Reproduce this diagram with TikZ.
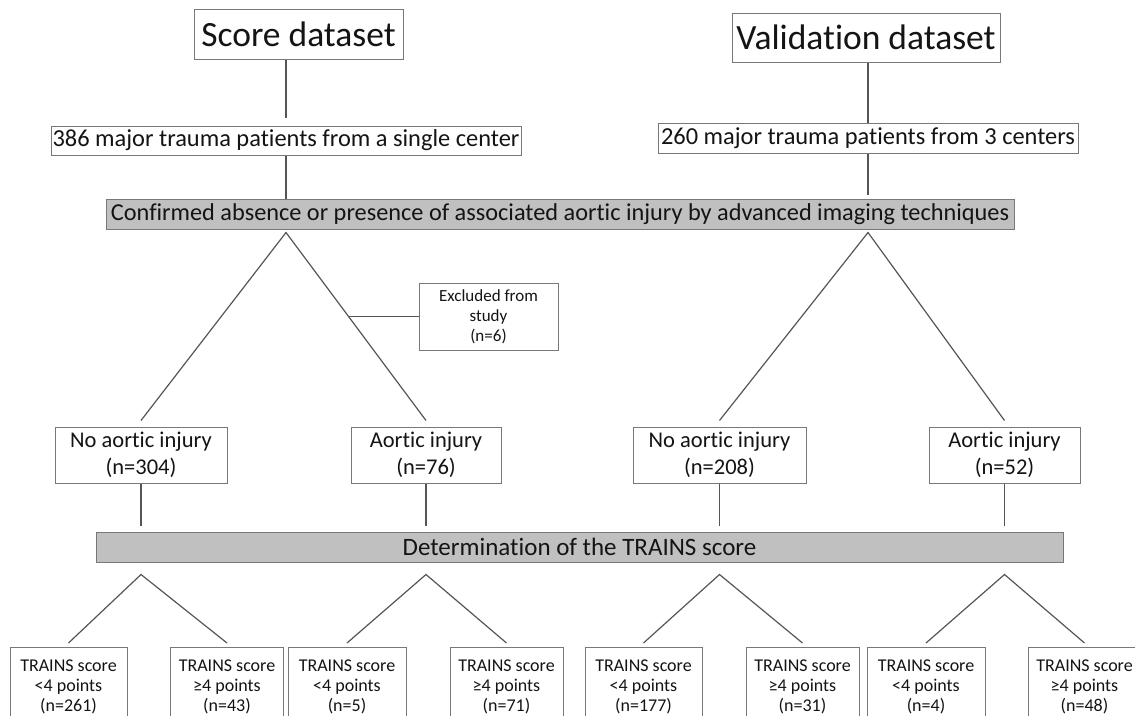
\documentclass[tikz,border=0pt]{standalone}
\usepackage{fontspec}
\setmainfont[Ligatures=NoCommon]{Carlito}
\usetikzlibrary{calc}
\definecolor{boxgrey}{RGB}{120,120,120}
\definecolor{linegrey}{RGB}{85,85,85}
\definecolor{bargrey}{RGB}{192,192,192}
\definecolor{textgrey}{RGB}{20,20,20}

\begin{document}
\begin{tikzpicture}[x=1pt,y=-1pt,
  box/.style={draw=boxgrey,line width=1pt,fill=white,inner sep=0pt,text=textgrey,align=center},
  greybar/.style={box,fill=bargrey,font=\fontsize{24.3}{27}\selectfont},
  conn/.style={draw=linegrey,line width=1.2pt},
  title/.style={box,font=\fontsize{35.5}{40}\selectfont},
  patbox/.style={box,font=\fontsize{24.4}{27}\selectfont},
  groupbox/.style={box,font=\fontsize{22.5}{27}\selectfont,minimum height=56pt},
  smallbox/.style={box,font=\fontsize{18}{20}\selectfont,anchor=north,inner ysep=12pt}]
      \clip (0,0) rectangle (1135,715);
      \useasboundingbox (0,0) rectangle (1135,715);

      % datasets
      \node[title,minimum width=209pt,minimum height=50pt] (score) at (298.5,34) {Score dataset};
      \node[title,minimum width=268pt,minimum height=49pt] (valid) at (866,37.5) {Validation dataset};
      \node[patbox,minimum width=470pt,minimum height=29pt] (pat1) at (286,140.5) {386 major trauma patients from a single center};
      \node[patbox,minimum width=420pt,minimum height=30pt] (pat2) at (868,138) {260 major trauma patients from 3 centers};
      \node[greybar,minimum width=908pt,minimum height=30pt] (conf) at (560,214) {Confirmed absence or presence of associated aortic injury by advanced imaging techniques};

      % groups
      \node[box,font=\fontsize{17}{20}\selectfont,minimum width=139pt,minimum height=67pt] (excl) at (488.5,316.5) {Excluded from\\study\\(n=6)};
      \node[groupbox,minimum width=172pt] (no1) at (141,455) {No aortic injury\\(n=304)};
      \node[groupbox,minimum width=150pt] (ai1) at (426,455) {Aortic injury\\(n=76)};
      \node[groupbox,minimum width=173pt] (no2) at (719.5,455) {No aortic injury\\(n=208)};
      \node[groupbox,minimum width=151pt] (ai2) at (1004.5,455) {Aortic injury\\(n=52)};
      \node[greybar,minimum width=967pt,minimum height=30pt,font=\fontsize{25}{28}\selectfont] (det) at (579.5,547) {Determination of the TRAINS score};

      % score results
      \foreach \nm/\x/\w/\op/\n in {t1/68.5/117/<4/261, t2/227/113/≥4/43,
                                     t3/347/118/<4/5, t4/506.5/113/≥4/71,
                                     t5/643.5/117/<4/177, t6/802.5/113/≥4/31,
                                     t7/926/118/<4/4, t8/1084.5/113/≥4/48}
        \node[smallbox,minimum width=\w pt] (\nm) at (\x,647) {TRAINS score\\\op{} points\\(n=\n)};

      % connectors
      \draw[conn] (score.south -| pat1) -- ([yshift=8pt]pat1.north);
      \draw[conn] (pat1.south) -- (pat1.south |- conf.north);
      \draw[conn] (valid.south -| pat2) -- (pat2.north);
      \draw[conn] (pat2.south) -- ([yshift=4pt]pat2.south |- conf.north);

      \coordinate (a1) at ($(pat1.south |- conf.south)+(0,3)$);
      \coordinate (a2) at ($(pat2.south |- conf.south)+(0,3)$);
      \coordinate (l1) at ([yshift=6pt]no1.north);
      \coordinate (l2) at ([yshift=6pt]ai1.north);
      \draw[conn] (l1) -- (a1) -- (l2);
      \draw[conn] ([yshift=6pt]no2.north) -- (a2) -- ([yshift=6pt]ai2.north);
      \coordinate (ex) at ($(a1)!0.447!(l2)$);
      \draw[conn] (excl.west) -- (excl.west -| ex);

      \foreach \g in {no1,ai1,no2,ai2}
        \draw[conn] (\g.south) -- ([yshift=6pt]\g.south |- det.north);

      \foreach \g/\l/\r in {no1/t1/t2, ai1/t3/t4, no2/t5/t6, ai2/t7/t8}
      {
        \coordinate (ap) at ($(\g.south |- det.south)+(0,12)$);
        \draw[conn] ([yshift=4pt]\l.north) -- (ap) -- ([yshift=4pt]\r.north);
      }
\end{tikzpicture}
\end{document}
